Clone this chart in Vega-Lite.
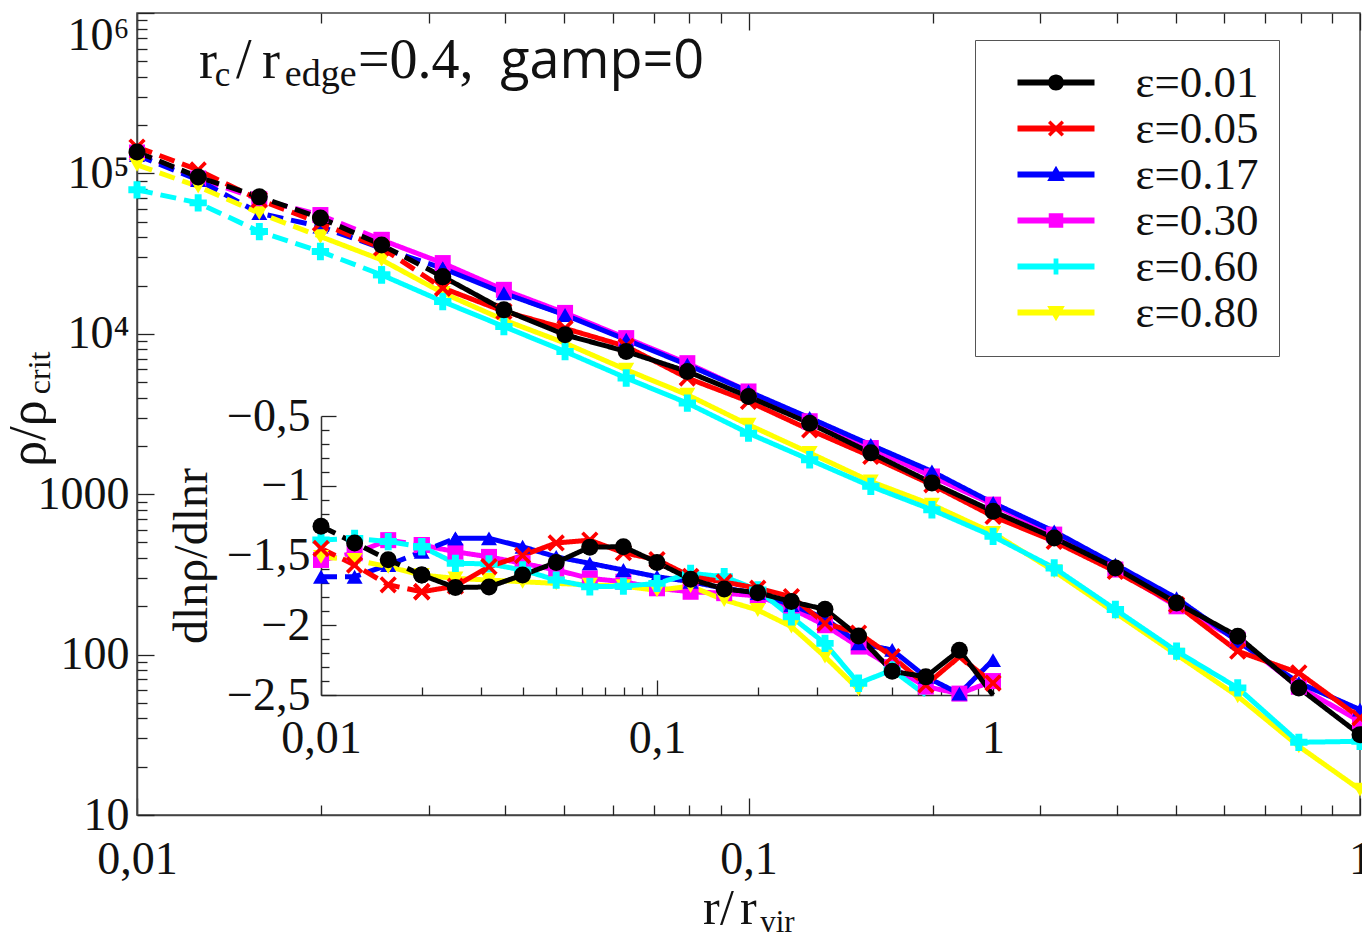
{
  "$schema": "https://vega.github.io/schema/vega-lite/v6.json",
  "width": 1223,
  "height": 802,
  "autosize": {"type": "none"},
  "padding": {"left": 137, "top": 13, "right": 2, "bottom": 123},
  "background": "white",
  "config": {
    "view": {"stroke": "#444", "strokeWidth": 1.5},
    "axis": {"grid": false, "domainColor": "#444", "domainWidth": 1.5, "tickColor": "#222", "tickWidth": 1.3, "labelFont": "Liberation Serif", "labelFontSize": 46, "labelColor": "#111", "titleFont": "Liberation Serif", "titleFontWeight": "normal", "titleColor": "#111", "labelOverlap": false, "labelBound": false, "labelFlush": false},
    "text": {"font": "Liberation Serif", "color": "#111"}
  },
  "datasets": {
    "prof": [
      {"eps":"0.30","r":0.01,"rho":135000,"zone":"in"},{"eps":"0.30","r":0.01259,"rho":93000,"zone":"in"},{"eps":"0.30","r":0.01585,"rho":69000,"zone":"in"},{"eps":"0.30","r":0.01995,"rho":55000,"zone":"in"},{"eps":"0.30","r":0.02512,"rho":38500,"zone":"in"},
      {"eps":"0.30","r":0.02512,"rho":38500,"zone":"out"},{"eps":"0.30","r":0.03162,"rho":27600,"zone":"out"},{"eps":"0.30","r":0.03981,"rho":18800,"zone":"out"},{"eps":"0.30","r":0.05012,"rho":13500,"zone":"out"},{"eps":"0.30","r":0.0631,"rho":9400,"zone":"out"},{"eps":"0.30","r":0.07943,"rho":6560,"zone":"out"},{"eps":"0.30","r":0.1,"rho":4370,"zone":"out"},{"eps":"0.30","r":0.1259,"rho":2850,"zone":"out"},{"eps":"0.30","r":0.1585,"rho":1940,"zone":"out"},{"eps":"0.30","r":0.1995,"rho":1290,"zone":"out"},{"eps":"0.30","r":0.2512,"rho":861,"zone":"out"},{"eps":"0.30","r":0.3162,"rho":560,"zone":"out"},{"eps":"0.30","r":0.3981,"rho":339,"zone":"out"},{"eps":"0.30","r":0.5012,"rho":200,"zone":"out"},{"eps":"0.30","r":0.631,"rho":124,"zone":"out"},{"eps":"0.30","r":0.7943,"rho":63,"zone":"out"},{"eps":"0.30","r":1,"rho":38.4,"zone":"out"},
      {"eps":"0.17","r":0.01,"rho":130000,"zone":"in"},{"eps":"0.17","r":0.01259,"rho":91000,"zone":"in"},{"eps":"0.17","r":0.01585,"rho":56500,"zone":"in"},{"eps":"0.17","r":0.01995,"rho":46600,"zone":"in"},{"eps":"0.17","r":0.02512,"rho":34200,"zone":"in"},{"eps":"0.17","r":0.03162,"rho":25600,"zone":"in"},
      {"eps":"0.17","r":0.03162,"rho":25600,"zone":"out"},{"eps":"0.17","r":0.03981,"rho":17900,"zone":"out"},{"eps":"0.17","r":0.05012,"rho":13100,"zone":"out"},{"eps":"0.17","r":0.0631,"rho":9180,"zone":"out"},{"eps":"0.17","r":0.07943,"rho":6410,"zone":"out"},{"eps":"0.17","r":0.1,"rho":4370,"zone":"out"},{"eps":"0.17","r":0.1259,"rho":2990,"zone":"out"},{"eps":"0.17","r":0.1585,"rho":2030,"zone":"out"},{"eps":"0.17","r":0.1995,"rho":1387,"zone":"out"},{"eps":"0.17","r":0.2512,"rho":881,"zone":"out"},{"eps":"0.17","r":0.3162,"rho":586,"zone":"out"},{"eps":"0.17","r":0.3981,"rho":364,"zone":"out"},{"eps":"0.17","r":0.5012,"rho":225,"zone":"out"},{"eps":"0.17","r":0.631,"rho":121,"zone":"out"},{"eps":"0.17","r":0.7943,"rho":66.7,"zone":"out"},{"eps":"0.17","r":1,"rho":45.4,"zone":"out"},
      {"eps":"0.80","r":0.01,"rho":113000,"zone":"in"},{"eps":"0.80","r":0.01259,"rho":82800,"zone":"in"},{"eps":"0.80","r":0.01585,"rho":56500,"zone":"in"},{"eps":"0.80","r":0.01995,"rho":40400,"zone":"in"},
      {"eps":"0.80","r":0.01995,"rho":40400,"zone":"out"},{"eps":"0.80","r":0.02512,"rho":28900,"zone":"out"},{"eps":"0.80","r":0.03162,"rho":18000,"zone":"out"},{"eps":"0.80","r":0.03981,"rho":12200,"zone":"out"},{"eps":"0.80","r":0.05012,"rho":8750,"zone":"out"},{"eps":"0.80","r":0.0631,"rho":5970,"zone":"out"},{"eps":"0.80","r":0.07943,"rho":4170,"zone":"out"},{"eps":"0.80","r":0.1,"rho":2710,"zone":"out"},{"eps":"0.80","r":0.1259,"rho":1810,"zone":"out"},{"eps":"0.80","r":0.1585,"rho":1200,"zone":"out"},{"eps":"0.80","r":0.1995,"rho":861,"zone":"out"},{"eps":"0.80","r":0.2512,"rho":573,"zone":"out"},{"eps":"0.80","r":0.3162,"rho":331,"zone":"out"},{"eps":"0.80","r":0.3981,"rho":182,"zone":"out"},{"eps":"0.80","r":0.5012,"rho":100,"zone":"out"},{"eps":"0.80","r":0.631,"rho":55,"zone":"out"},{"eps":"0.80","r":0.7943,"rho":26.8,"zone":"out"},{"eps":"0.80","r":1,"rho":14.4,"zone":"out"},
      {"eps":"0.60","r":0.01,"rho":79000,"zone":"in"},{"eps":"0.60","r":0.01259,"rho":65500,"zone":"in"},{"eps":"0.60","r":0.01585,"rho":43400,"zone":"in"},{"eps":"0.60","r":0.01995,"rho":32600,"zone":"in"},{"eps":"0.60","r":0.02512,"rho":23300,"zone":"in"},
      {"eps":"0.60","r":0.02512,"rho":23300,"zone":"out"},{"eps":"0.60","r":0.03162,"rho":15900,"zone":"out"},{"eps":"0.60","r":0.03981,"rho":11100,"zone":"out"},{"eps":"0.60","r":0.05012,"rho":7760,"zone":"out"},{"eps":"0.60","r":0.0631,"rho":5300,"zone":"out"},{"eps":"0.60","r":0.07943,"rho":3700,"zone":"out"},{"eps":"0.60","r":0.1,"rho":2400,"zone":"out"},{"eps":"0.60","r":0.1259,"rho":1640,"zone":"out"},{"eps":"0.60","r":0.1585,"rho":1120,"zone":"out"},{"eps":"0.60","r":0.1995,"rho":800,"zone":"out"},{"eps":"0.60","r":0.2512,"rho":546,"zone":"out"},{"eps":"0.60","r":0.3162,"rho":347,"zone":"out"},{"eps":"0.60","r":0.3981,"rho":191,"zone":"out"},{"eps":"0.60","r":0.5012,"rho":105,"zone":"out"},{"eps":"0.60","r":0.631,"rho":62,"zone":"out"},{"eps":"0.60","r":0.7943,"rho":28.4,"zone":"out"},{"eps":"0.60","r":1,"rho":28.8,"zone":"out"},
      {"eps":"0.05","r":0.01,"rho":146000,"zone":"in"},{"eps":"0.05","r":0.01259,"rho":105000,"zone":"in"},{"eps":"0.05","r":0.01585,"rho":68400,"zone":"in"},{"eps":"0.05","r":0.01995,"rho":49000,"zone":"in"},{"eps":"0.05","r":0.02512,"rho":34300,"zone":"in"},{"eps":"0.05","r":0.03162,"rho":19300,"zone":"in"},
      {"eps":"0.05","r":0.03162,"rho":19300,"zone":"out"},{"eps":"0.05","r":0.03981,"rho":13800,"zone":"out"},{"eps":"0.05","r":0.05012,"rho":10800,"zone":"out"},{"eps":"0.05","r":0.0631,"rho":8340,"zone":"out"},{"eps":"0.05","r":0.07943,"rho":5300,"zone":"out"},{"eps":"0.05","r":0.1,"rho":3790,"zone":"out"},{"eps":"0.05","r":0.1259,"rho":2520,"zone":"out"},{"eps":"0.05","r":0.1585,"rho":1720,"zone":"out"},{"eps":"0.05","r":0.1995,"rho":1145,"zone":"out"},{"eps":"0.05","r":0.2512,"rho":728,"zone":"out"},{"eps":"0.05","r":0.3162,"rho":508,"zone":"out"},{"eps":"0.05","r":0.3981,"rho":330,"zone":"out"},{"eps":"0.05","r":0.5012,"rho":205,"zone":"out"},{"eps":"0.05","r":0.631,"rho":105,"zone":"out"},{"eps":"0.05","r":0.7943,"rho":76.9,"zone":"out"},{"eps":"0.05","r":1,"rho":40.4,"zone":"out"},
      {"eps":"0.01","r":0.01,"rho":136000,"zone":"in"},{"eps":"0.01","r":0.01259,"rho":95000,"zone":"in"},{"eps":"0.01","r":0.01585,"rho":71400,"zone":"in"},{"eps":"0.01","r":0.01995,"rho":52800,"zone":"in"},{"eps":"0.01","r":0.02512,"rho":35800,"zone":"in"},{"eps":"0.01","r":0.03162,"rho":22700,"zone":"in"},
      {"eps":"0.01","r":0.03162,"rho":22700,"zone":"out"},{"eps":"0.01","r":0.03981,"rho":14100,"zone":"out"},{"eps":"0.01","r":0.05012,"rho":9860,"zone":"out"},{"eps":"0.01","r":0.0631,"rho":7760,"zone":"out"},{"eps":"0.01","r":0.07943,"rho":5820,"zone":"out"},{"eps":"0.01","r":0.1,"rho":4060,"zone":"out"},{"eps":"0.01","r":0.1259,"rho":2770,"zone":"out"},{"eps":"0.01","r":0.1585,"rho":1810,"zone":"out"},{"eps":"0.01","r":0.1995,"rho":1175,"zone":"out"},{"eps":"0.01","r":0.2512,"rho":782,"zone":"out"},{"eps":"0.01","r":0.3162,"rho":533,"zone":"out"},{"eps":"0.01","r":0.3981,"rho":347,"zone":"out"},{"eps":"0.01","r":0.5012,"rho":210,"zone":"out"},{"eps":"0.01","r":0.631,"rho":130,"zone":"out"},{"eps":"0.01","r":0.7943,"rho":62,"zone":"out"},{"eps":"0.01","r":1,"rho":31.7,"zone":"out"}
    ],
    "slope": [
      {"eps":"0.30","r":0.01,"s":-1.532,"zone":"in"},{"eps":"0.30","r":0.01259,"s":-1.484,"zone":"in"},{"eps":"0.30","r":0.01585,"s":-1.39,"zone":"in"},{"eps":"0.30","r":0.01995,"s":-1.425,"zone":"in"},
      {"eps":"0.30","r":0.01995,"s":-1.425,"zone":"out"},{"eps":"0.30","r":0.02512,"s":-1.473,"zone":"out"},{"eps":"0.30","r":0.03162,"s":-1.51,"zone":"out"},{"eps":"0.30","r":0.03981,"s":-1.556,"zone":"out"},{"eps":"0.30","r":0.05012,"s":-1.604,"zone":"out"},{"eps":"0.30","r":0.0631,"s":-1.664,"zone":"out"},{"eps":"0.30","r":0.07943,"s":-1.688,"zone":"out"},{"eps":"0.30","r":0.1,"s":-1.735,"zone":"out"},{"eps":"0.30","r":0.1259,"s":-1.76,"zone":"out"},{"eps":"0.30","r":0.1585,"s":-1.77,"zone":"out"},{"eps":"0.30","r":0.1995,"s":-1.79,"zone":"out"},{"eps":"0.30","r":0.2512,"s":-1.88,"zone":"out"},{"eps":"0.30","r":0.3162,"s":-2.0,"zone":"out"},{"eps":"0.30","r":0.3981,"s":-2.153,"zone":"out"},{"eps":"0.30","r":0.5012,"s":-2.3,"zone":"out"},{"eps":"0.30","r":0.631,"s":-2.44,"zone":"out"},{"eps":"0.30","r":0.7943,"s":-2.49,"zone":"out"},{"eps":"0.30","r":1,"s":-2.4,"zone":"out"},
      {"eps":"0.17","r":0.01,"s":-1.652,"zone":"in"},{"eps":"0.17","r":0.01259,"s":-1.652,"zone":"in"},{"eps":"0.17","r":0.01585,"s":-1.568,"zone":"in"},{"eps":"0.17","r":0.01995,"s":-1.473,"zone":"in"},{"eps":"0.17","r":0.02512,"s":-1.377,"zone":"in"},
      {"eps":"0.17","r":0.02512,"s":-1.377,"zone":"out"},{"eps":"0.17","r":0.03162,"s":-1.377,"zone":"out"},{"eps":"0.17","r":0.03981,"s":-1.437,"zone":"out"},{"eps":"0.17","r":0.05012,"s":-1.51,"zone":"out"},{"eps":"0.17","r":0.0631,"s":-1.556,"zone":"out"},{"eps":"0.17","r":0.07943,"s":-1.604,"zone":"out"},{"eps":"0.17","r":0.1,"s":-1.652,"zone":"out"},{"eps":"0.17","r":0.1259,"s":-1.688,"zone":"out"},{"eps":"0.17","r":0.1585,"s":-1.735,"zone":"out"},{"eps":"0.17","r":0.1995,"s":-1.77,"zone":"out"},{"eps":"0.17","r":0.2512,"s":-1.855,"zone":"out"},{"eps":"0.17","r":0.3162,"s":-1.95,"zone":"out"},{"eps":"0.17","r":0.3981,"s":-2.13,"zone":"out"},{"eps":"0.17","r":0.5012,"s":-2.177,"zone":"out"},{"eps":"0.17","r":0.631,"s":-2.37,"zone":"out"},{"eps":"0.17","r":0.7943,"s":-2.49,"zone":"out"},{"eps":"0.17","r":1,"s":-2.25,"zone":"out"},
      {"eps":"0.80","r":0.01,"s":-1.51,"zone":"in"},{"eps":"0.80","r":0.01259,"s":-1.532,"zone":"in"},{"eps":"0.80","r":0.01585,"s":-1.58,"zone":"in"},
      {"eps":"0.80","r":0.01585,"s":-1.58,"zone":"out"},{"eps":"0.80","r":0.01995,"s":-1.64,"zone":"out"},{"eps":"0.80","r":0.02512,"s":-1.664,"zone":"out"},{"eps":"0.80","r":0.03162,"s":-1.676,"zone":"out"},{"eps":"0.80","r":0.03981,"s":-1.688,"zone":"out"},{"eps":"0.80","r":0.05012,"s":-1.7,"zone":"out"},{"eps":"0.80","r":0.0631,"s":-1.71,"zone":"out"},{"eps":"0.80","r":0.07943,"s":-1.72,"zone":"out"},{"eps":"0.80","r":0.1,"s":-1.75,"zone":"out"},{"eps":"0.80","r":0.1259,"s":-1.72,"zone":"out"},{"eps":"0.80","r":0.1585,"s":-1.819,"zone":"out"},{"eps":"0.80","r":0.1995,"s":-1.891,"zone":"out"},{"eps":"0.80","r":0.2512,"s":-2.01,"zone":"out"},{"eps":"0.80","r":0.3162,"s":-2.225,"zone":"out"},{"eps":"0.80","r":0.3981,"s":-2.46,"zone":"out"},
      {"eps":"0.60","r":0.01,"s":-1.389,"zone":"in"},{"eps":"0.60","r":0.01259,"s":-1.377,"zone":"in"},{"eps":"0.60","r":0.01585,"s":-1.4,"zone":"in"},{"eps":"0.60","r":0.01995,"s":-1.437,"zone":"in"},
      {"eps":"0.60","r":0.01995,"s":-1.437,"zone":"out"},{"eps":"0.60","r":0.02512,"s":-1.556,"zone":"out"},{"eps":"0.60","r":0.03162,"s":-1.56,"zone":"out"},{"eps":"0.60","r":0.03981,"s":-1.604,"zone":"out"},{"eps":"0.60","r":0.05012,"s":-1.676,"zone":"out"},{"eps":"0.60","r":0.0631,"s":-1.724,"zone":"out"},{"eps":"0.60","r":0.07943,"s":-1.72,"zone":"out"},{"eps":"0.60","r":0.1,"s":-1.7,"zone":"out"},{"eps":"0.60","r":0.1259,"s":-1.628,"zone":"out"},{"eps":"0.60","r":0.1585,"s":-1.652,"zone":"out"},{"eps":"0.60","r":0.1995,"s":-1.747,"zone":"out"},{"eps":"0.60","r":0.2512,"s":-1.94,"zone":"out"},{"eps":"0.60","r":0.3162,"s":-2.13,"zone":"out"},{"eps":"0.60","r":0.3981,"s":-2.416,"zone":"out"},{"eps":"0.60","r":0.5012,"s":-2.32,"zone":"out"},{"eps":"0.60","r":0.631,"s":-3.0,"zone":"out"},
      {"eps":"0.05","r":0.01,"s":-1.45,"zone":"in"},{"eps":"0.05","r":0.01259,"s":-1.568,"zone":"in"},{"eps":"0.05","r":0.01585,"s":-1.71,"zone":"in"},{"eps":"0.05","r":0.01995,"s":-1.76,"zone":"in"},
      {"eps":"0.05","r":0.01995,"s":-1.76,"zone":"out"},{"eps":"0.05","r":0.02512,"s":-1.72,"zone":"out"},{"eps":"0.05","r":0.03162,"s":-1.58,"zone":"out"},{"eps":"0.05","r":0.03981,"s":-1.5,"zone":"out"},{"eps":"0.05","r":0.05012,"s":-1.41,"zone":"out"},{"eps":"0.05","r":0.0631,"s":-1.39,"zone":"out"},{"eps":"0.05","r":0.07943,"s":-1.48,"zone":"out"},{"eps":"0.05","r":0.1,"s":-1.53,"zone":"out"},{"eps":"0.05","r":0.1259,"s":-1.65,"zone":"out"},{"eps":"0.05","r":0.1585,"s":-1.69,"zone":"out"},{"eps":"0.05","r":0.1995,"s":-1.735,"zone":"out"},{"eps":"0.05","r":0.2512,"s":-1.795,"zone":"out"},{"eps":"0.05","r":0.3162,"s":-1.986,"zone":"out"},{"eps":"0.05","r":0.3981,"s":-2.056,"zone":"out"},{"eps":"0.05","r":0.5012,"s":-2.225,"zone":"out"},{"eps":"0.05","r":0.631,"s":-2.428,"zone":"out"},{"eps":"0.05","r":0.7943,"s":-2.225,"zone":"out"},{"eps":"0.05","r":1,"s":-2.414,"zone":"out"},
      {"eps":"0.01","r":0.01,"s":-1.29,"zone":"in"},{"eps":"0.01","r":0.01259,"s":-1.41,"zone":"in"},{"eps":"0.01","r":0.01585,"s":-1.53,"zone":"in"},{"eps":"0.01","r":0.01995,"s":-1.64,"zone":"in"},
      {"eps":"0.01","r":0.01995,"s":-1.64,"zone":"out"},{"eps":"0.01","r":0.02512,"s":-1.73,"zone":"out"},{"eps":"0.01","r":0.03162,"s":-1.725,"zone":"out"},{"eps":"0.01","r":0.03981,"s":-1.64,"zone":"out"},{"eps":"0.01","r":0.05012,"s":-1.55,"zone":"out"},{"eps":"0.01","r":0.0631,"s":-1.44,"zone":"out"},{"eps":"0.01","r":0.07943,"s":-1.437,"zone":"out"},{"eps":"0.01","r":0.1,"s":-1.55,"zone":"out"},{"eps":"0.01","r":0.1259,"s":-1.67,"zone":"out"},{"eps":"0.01","r":0.1585,"s":-1.74,"zone":"out"},{"eps":"0.01","r":0.1995,"s":-1.767,"zone":"out"},{"eps":"0.01","r":0.2512,"s":-1.83,"zone":"out"},{"eps":"0.01","r":0.3162,"s":-1.886,"zone":"out"},{"eps":"0.01","r":0.3981,"s":-2.077,"zone":"out"},{"eps":"0.01","r":0.5012,"s":-2.33,"zone":"out"},{"eps":"0.01","r":0.631,"s":-2.37,"zone":"out"},{"eps":"0.01","r":0.7943,"s":-2.18,"zone":"out"},{"eps":"0.01","r":1,"s":-2.8,"zone":"out"}
    ]
  },
  "layer": [
    {
      "resolve": {"axis": {"x": "independent", "y": "independent"}},
      "layer": [
        {
          "data": {"name": "prof"},
          "mark": {"type": "point", "filled": true, "opacity": 0},
          "encoding": {
            "x": {"field": "r", "type": "quantitative", "scale": {"type": "log", "domain": [0.01, 1], "nice": false},
              "axis": {"orient": "bottom", "title": null, "labels": false, "domain": false, "values": [0.01, 0.1, 1], "tickSize": -17}},
            "y": {"field": "rho", "type": "quantitative", "scale": {"type": "log", "domain": [10, 1000000], "nice": false},
              "axis": {"orient": "left", "title": null, "labels": false, "domain": false, "values": [10, 100, 1000, 10000, 100000, 1000000], "tickSize": -17}},
            "color": {"field": "eps", "type": "nominal",
              "scale": {"domain": ["0.01","0.05","0.17","0.30","0.60","0.80"], "range": ["#000000","#ff0000","#0000ff","#ff00ff","#00ffff","#ffff00"]},
              "legend": {"orient": "none", "legendX": 838, "legendY": 27, "title": null,
                "labelExpr": "'ε=' + datum.label",
                "labelFont": "Liberation Serif", "labelFontSize": 45, "labelColor": "#111", "labelOffset": 57,
                "symbolSize": 1936, "symbolOffset": 38.5, "symbolStrokeWidth": 0, "symbolOpacity": 1,
                "padding": 20, "rowPadding": 0, "strokeColor": "#555", "fillColor": "white"}},
            "shape": {"field": "eps", "type": "nominal",
              "scale": {"domain": ["0.01","0.05","0.17","0.30","0.60","0.80"], "range": [
                "M-1.75,-0.136H1.75V0.136H-1.75ZM-0.364,0A0.364,0.364 0 1,1 0.364,0A0.364,0.364 0 1,1 -0.364,0Z",
                "M-1.75,-0.136H1.75V0.136H-1.75ZM-0.255,-0.364L0,-0.109L0.255,-0.364L0.364,-0.255L0.109,0L0.364,0.255L0.255,0.364L0,0.109L-0.255,0.364L-0.364,0.255L-0.109,0L-0.364,-0.255Z",
                "M-1.75,-0.136H1.75V0.136H-1.75ZM0,-0.4L0.4,0.29L-0.4,0.29Z",
                "M-1.75,-0.136H1.75V0.136H-1.75ZM-0.33,-0.33H0.33V0.33H-0.33Z",
                "M-1.75,-0.136H1.75V0.136H-1.75ZM-0.109,-0.364H0.109V-0.109H0.364V0.109H0.109V0.364H-0.109V0.109H-0.364V-0.109H-0.109Z",
                "M-1.75,-0.136H1.75V0.136H-1.75ZM-0.4,-0.29L0.4,-0.29L0,0.4Z"]},
              "legend": {"orient": "none", "legendX": 838, "legendY": 27, "title": null,
                "labelExpr": "'ε=' + datum.label",
                "labelFont": "Liberation Serif", "labelFontSize": 45, "labelColor": "#111", "labelOffset": 57,
                "symbolSize": 1936, "symbolOffset": 38.5, "symbolStrokeWidth": 0, "symbolOpacity": 1,
                "padding": 20, "rowPadding": 0, "strokeColor": "#555", "fillColor": "white"}}
          }
        },
        {
          "data": {"name": "prof"},
          "mark": {"type": "line", "strokeWidth": 5},
          "encoding": {
            "x": {"field": "r", "type": "quantitative",
              "axis": {"orient": "bottom", "title": null, "ticks": false, "values": [0.01, 0.1, 1],
                "labelExpr": "replace(format(datum.value,'~g'),'.',',')", "labelPadding": 22}},
            "y": {"field": "rho", "type": "quantitative",
              "axis": {"orient": "left", "title": null, "ticks": false, "values": [10, 100, 1000, 10000, 100000, 1000000],
                "labelExpr": "datum.value > 5000 ? '10' + (datum.value < 50000 ? '⁴' : datum.value < 500000 ? '⁵' : '⁶') : format(datum.value,'d')",
                "labelPadding": 8,
                "labelBaseline": {"condition": {"test": "datum.value > 500000", "value": "top"}, "value": "middle"}}},
            "color": {"field": "eps", "type": "nominal", "legend": null},
            "strokeDash": {"field": "zone", "type": "nominal", "scale": {"domain": ["in", "out"], "range": [[16, 8], [1, 0]]}, "legend": null}
          }
        },
        {
          "data": {"name": "prof"}, "transform": [{"filter": "datum.eps == '0.30'"}],
          "mark": {"type": "point", "shape": "square", "filled": true, "size": 256, "opacity": 1},
          "encoding": {
            "x": {"field": "r", "type": "quantitative",
              "axis": {"orient": "bottom", "title": null, "labels": false, "domain": false, "values": [0.02,0.03,0.04,0.05,0.06,0.07,0.08,0.09,0.2,0.3,0.4,0.5,0.6,0.7,0.8,0.9], "tickSize": -10}},
            "y": {"field": "rho", "type": "quantitative",
              "axis": {"orient": "left", "title": null, "labels": false, "domain": false, "values": [20,30,40,50,60,70,80,90,200,300,400,500,600,700,800,900,2000,3000,4000,5000,6000,7000,8000,9000,20000,30000,40000,50000,60000,70000,80000,90000,200000,300000,400000,500000,600000,700000,800000,900000], "tickSize": -10}},
            "color": {"field": "eps", "type": "nominal", "legend": null}
          }
        },
        {
          "data": {"name": "prof"}, "transform": [{"filter": "datum.eps == '0.17'"}],
          "mark": {"type": "point", "shape": "triangle-up", "filled": true, "size": 256, "opacity": 1},
          "encoding": {
            "x": {"field": "r", "type": "quantitative",
              "axis": {"orient": "top", "title": null, "labels": false, "domain": false, "values": [0.01, 0.1, 1], "tickSize": -17}},
            "y": {"field": "rho", "type": "quantitative", "axis": null},
            "color": {"field": "eps", "type": "nominal", "legend": null}
          }
        },
        {
          "data": {"name": "prof"}, "transform": [{"filter": "datum.eps == '0.80'"}],
          "mark": {"type": "point", "shape": "triangle-down", "filled": true, "size": 256, "opacity": 1},
          "encoding": {
            "x": {"field": "r", "type": "quantitative",
              "axis": {"orient": "top", "title": null, "labels": false, "domain": false, "values": [0.02,0.03,0.04,0.05,0.06,0.07,0.08,0.09,0.2,0.3,0.4,0.5,0.6,0.7,0.8,0.9], "tickSize": -10}},
            "y": {"field": "rho", "type": "quantitative", "axis": null},
            "color": {"field": "eps", "type": "nominal", "legend": null}
          }
        },
        {
          "data": {"name": "prof"}, "transform": [{"filter": "datum.eps == '0.60'"}],
          "mark": {"type": "point", "shape": "cross", "filled": true, "size": 300, "opacity": 1},
          "encoding": {"x": {"field": "r", "type": "quantitative", "axis": null}, "y": {"field": "rho", "type": "quantitative", "axis": null}, "color": {"field": "eps", "type": "nominal", "legend": null}}
        },
        {
          "data": {"name": "prof"}, "transform": [{"filter": "datum.eps == '0.05'"}],
          "mark": {"type": "point", "shape": "M-0.7,-1L0,-0.3L0.7,-1L1,-0.7L0.3,0L1,0.7L0.7,1L0,0.3L-0.7,1L-1,0.7L-0.3,0L-1,-0.7Z", "filled": true, "size": 300, "opacity": 1},
          "encoding": {"x": {"field": "r", "type": "quantitative", "axis": null}, "y": {"field": "rho", "type": "quantitative", "axis": null}, "color": {"field": "eps", "type": "nominal", "legend": null}}
        },
        {
          "data": {"name": "prof"}, "transform": [{"filter": "datum.eps == '0.01'"}],
          "mark": {"type": "point", "shape": "circle", "filled": true, "size": 289, "opacity": 1},
          "encoding": {"x": {"field": "r", "type": "quantitative", "axis": null}, "y": {"field": "rho", "type": "quantitative", "axis": null}, "color": {"field": "eps", "type": "nominal", "legend": null}}
        },
        {"data": {"values": [{}]}, "mark": {"type": "text", "text": "r", "fontSize": 54, "align": "left", "baseline": "alphabetic"},
          "encoding": {"x": {"datum": 0.01263, "type": "quantitative", "axis": null}, "y": {"datum": 394000, "type": "quantitative", "axis": null}}},
        {"data": {"values": [{}]}, "mark": {"type": "text", "text": "c", "fontSize": 35, "align": "left", "baseline": "alphabetic"},
          "encoding": {"x": {"datum": 0.0134, "type": "quantitative", "axis": null}, "y": {"datum": 351000, "type": "quantitative", "axis": null}}},
        {"data": {"values": [{}]}, "mark": {"type": "text", "text": "/", "fontSize": 56, "align": "left", "baseline": "alphabetic"},
          "encoding": {"x": {"datum": 0.01452, "type": "quantitative", "axis": null}, "y": {"datum": 394000, "type": "quantitative", "axis": null}}},
        {"data": {"values": [{}]}, "mark": {"type": "text", "text": "r", "fontSize": 54, "align": "left", "baseline": "alphabetic"},
          "encoding": {"x": {"datum": 0.01601, "type": "quantitative", "axis": null}, "y": {"datum": 394000, "type": "quantitative", "axis": null}}},
        {"data": {"values": [{}]}, "mark": {"type": "text", "text": "edge", "fontSize": 38, "align": "left", "baseline": "alphabetic"},
          "encoding": {"x": {"datum": 0.01745, "type": "quantitative", "axis": null}, "y": {"datum": 351000, "type": "quantitative", "axis": null}}},
        {"data": {"values": [{}]}, "mark": {"type": "text", "text": "=0.4,", "fontSize": 56, "align": "left", "baseline": "alphabetic"},
          "encoding": {"x": {"datum": 0.02298, "type": "quantitative", "axis": null}, "y": {"datum": 394000, "type": "quantitative", "axis": null}}},
        {"data": {"values": [{}]}, "mark": {"type": "text", "text": "gamp=0", "font": "Open Sans", "fontSize": 54, "align": "left", "baseline": "alphabetic"},
          "encoding": {"x": {"datum": 0.03925, "type": "quantitative", "axis": null}, "y": {"datum": 394000, "type": "quantitative", "axis": null}}},
        {"data": {"values": [{}]}, "mark": {"type": "text", "text": "ρ/ρ", "fontSize": 52, "angle": 270, "align": "left", "baseline": "alphabetic"},
          "encoding": {"x": {"datum": 0.00707, "type": "quantitative", "axis": null}, "y": {"datum": 1484, "type": "quantitative", "axis": null}}},
        {"data": {"values": [{}]}, "mark": {"type": "text", "text": "crit", "fontSize": 32, "angle": 270, "align": "left", "baseline": "alphabetic"},
          "encoding": {"x": {"datum": 0.0072, "type": "quantitative", "axis": null}, "y": {"datum": 4200, "type": "quantitative", "axis": null}}},
        {"data": {"values": [{}]}, "mark": {"type": "text", "text": "r", "fontSize": 50, "align": "left", "baseline": "alphabetic"},
          "encoding": {"x": {"datum": 0.08425, "type": "quantitative", "axis": null}, "y": {"datum": 2.08, "type": "quantitative", "axis": null}}},
        {"data": {"values": [{}]}, "mark": {"type": "text", "text": "/", "fontSize": 50, "align": "left", "baseline": "alphabetic"},
          "encoding": {"x": {"datum": 0.0898, "type": "quantitative", "axis": null}, "y": {"datum": 2.08, "type": "quantitative", "axis": null}}},
        {"data": {"values": [{}]}, "mark": {"type": "text", "text": "r", "fontSize": 50, "align": "left", "baseline": "alphabetic"},
          "encoding": {"x": {"datum": 0.09685, "type": "quantitative", "axis": null}, "y": {"datum": 2.08, "type": "quantitative", "axis": null}}},
        {"data": {"values": [{}]}, "mark": {"type": "text", "text": "vir", "fontSize": 31, "align": "left", "baseline": "alphabetic"},
          "encoding": {"x": {"datum": 0.1045, "type": "quantitative", "axis": null}, "y": {"datum": 1.853, "type": "quantitative", "axis": null}}}
      ]
    },
    {
      "resolve": {"axis": {"x": "independent", "y": "independent"}},
      "layer": [
        {
          "data": {"name": "slope"},
          "mark": {"type": "line", "strokeWidth": 5},
          "encoding": {
            "x": {"field": "r", "type": "quantitative", "scale": {"type": "log", "domain": [0.01, 1], "range": [184, 856], "nice": false},
              "axis": {"orient": "bottom", "offset": -120, "title": null, "ticks": false, "values": [0.01, 0.1, 1],
                "labelExpr": "replace(format(datum.value,'~g'),'.',',')", "labelPadding": 21, "domainColor": "#333"}},
            "y": {"field": "s", "type": "quantitative", "scale": {"domain": [-2.5, -0.5], "range": [682, 403], "clamp": true, "zero": false, "nice": false},
              "axis": {"orient": "left", "offset": -184, "title": "dlnρ/dlnr", "titleFontSize": 48, "titlePadding": 10, "ticks": false,
                "values": [-2.5, -2, -1.5, -1, -0.5],
                "labelExpr": "replace(format(datum.value,'.1~f'),'.',',')", "labelPadding": 11, "domainColor": "#333"}},
            "color": {"field": "eps", "type": "nominal", "legend": null},
            "strokeDash": {"field": "zone", "type": "nominal", "legend": null}
          }
        },
        {
          "data": {"name": "slope"}, "transform": [{"filter": "datum.s >= -2.5 && datum.eps == '0.30'"}],
          "mark": {"type": "point", "shape": "square", "filled": true, "size": 256, "opacity": 1},
          "encoding": {
            "x": {"field": "r", "type": "quantitative",
              "axis": {"orient": "bottom", "offset": -120, "title": null, "labels": false, "domain": false, "values": [0.01, 0.1, 1], "tickSize": -15}},
            "y": {"field": "s", "type": "quantitative",
              "axis": {"orient": "left", "offset": -184, "title": null, "labels": false, "domain": false, "values": [-2.5, -2, -1.5, -1, -0.5], "tickSize": -15}},
            "color": {"field": "eps", "type": "nominal", "legend": null}
          }
        },
        {
          "data": {"name": "slope"}, "transform": [{"filter": "datum.s >= -2.5 && datum.eps == '0.17'"}],
          "mark": {"type": "point", "shape": "triangle-up", "filled": true, "size": 256, "opacity": 1},
          "encoding": {
            "x": {"field": "r", "type": "quantitative",
              "axis": {"orient": "bottom", "offset": -120, "title": null, "labels": false, "domain": false, "values": [0.02,0.03,0.04,0.05,0.06,0.07,0.08,0.09,0.2,0.3,0.4,0.5,0.6,0.7,0.8,0.9], "tickSize": -8}},
            "y": {"field": "s", "type": "quantitative",
              "axis": {"orient": "left", "offset": -184, "title": null, "labels": false, "domain": false, "values": [-2.4,-2.3,-2.2,-2.1,-1.9,-1.8,-1.7,-1.6,-1.4,-1.3,-1.2,-1.1,-0.9,-0.8,-0.7,-0.6], "tickSize": -8}},
            "color": {"field": "eps", "type": "nominal", "legend": null}
          }
        },
        {
          "data": {"name": "slope"}, "transform": [{"filter": "datum.s >= -2.5 && datum.eps == '0.80'"}],
          "mark": {"type": "point", "shape": "triangle-down", "filled": true, "size": 256, "opacity": 1},
          "encoding": {"x": {"field": "r", "type": "quantitative", "axis": null}, "y": {"field": "s", "type": "quantitative", "axis": null}, "color": {"field": "eps", "type": "nominal", "legend": null}}
        },
        {
          "data": {"name": "slope"}, "transform": [{"filter": "datum.s >= -2.5 && datum.eps == '0.60'"}],
          "mark": {"type": "point", "shape": "cross", "filled": true, "size": 300, "opacity": 1},
          "encoding": {"x": {"field": "r", "type": "quantitative", "axis": null}, "y": {"field": "s", "type": "quantitative", "axis": null}, "color": {"field": "eps", "type": "nominal", "legend": null}}
        },
        {
          "data": {"name": "slope"}, "transform": [{"filter": "datum.s >= -2.5 && datum.eps == '0.05'"}],
          "mark": {"type": "point", "shape": "M-0.7,-1L0,-0.3L0.7,-1L1,-0.7L0.3,0L1,0.7L0.7,1L0,0.3L-0.7,1L-1,0.7L-0.3,0L-1,-0.7Z", "filled": true, "size": 300, "opacity": 1},
          "encoding": {"x": {"field": "r", "type": "quantitative", "axis": null}, "y": {"field": "s", "type": "quantitative", "axis": null}, "color": {"field": "eps", "type": "nominal", "legend": null}}
        },
        {
          "data": {"name": "slope"}, "transform": [{"filter": "datum.s >= -2.5 && datum.eps == '0.01'"}],
          "mark": {"type": "point", "shape": "circle", "filled": true, "size": 289, "opacity": 1},
          "encoding": {"x": {"field": "r", "type": "quantitative", "axis": null}, "y": {"field": "s", "type": "quantitative", "axis": null}, "color": {"field": "eps", "type": "nominal", "legend": null}}
        }
      ]
    }
  ],
  "resolve": {"scale": {"x": "independent", "y": "independent"}}
}
